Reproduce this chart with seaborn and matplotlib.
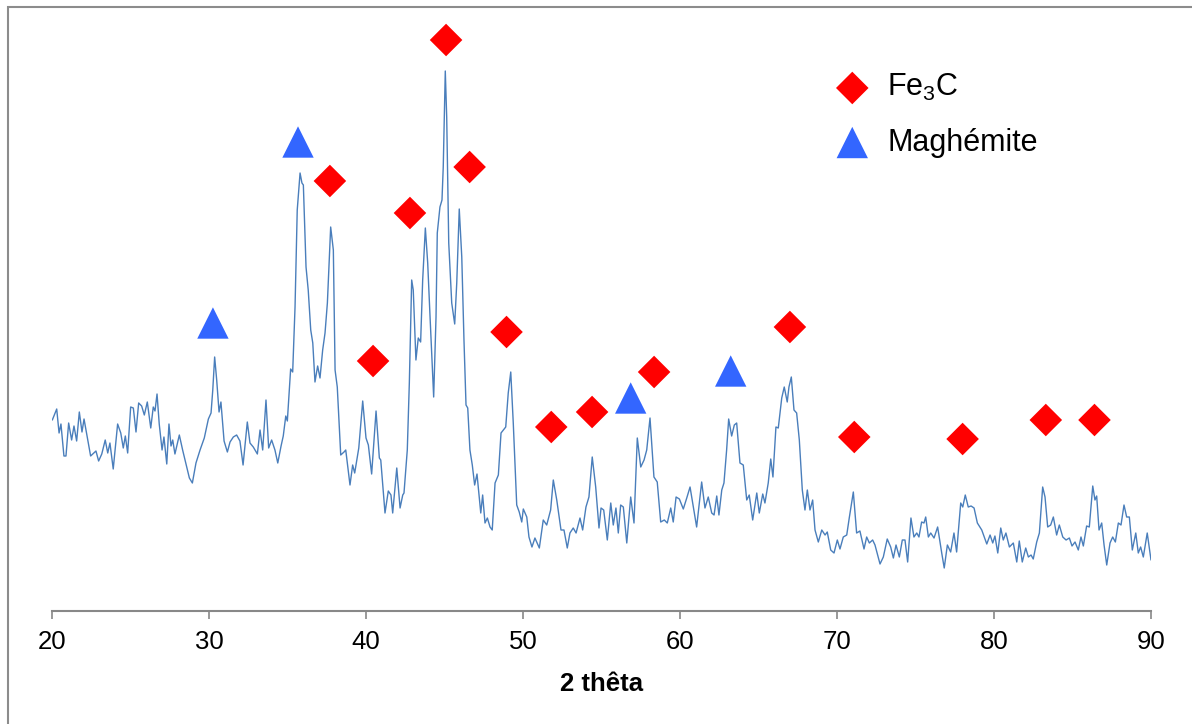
import matplotlib
matplotlib.use("Agg")
import matplotlib.pyplot as plt
from matplotlib.patches import Rectangle
import seaborn as sns
import pandas as pd

# ---- data -------------------------------------------------------------
two_theta = [
    20.02, 20.30, 20.45, 20.57, 20.76, 20.89, 21.06, 21.25, 21.40, 21.57,
    21.74, 21.91, 22.04, 22.21, 22.46, 22.80, 22.97, 23.17, 23.39, 23.55,
    23.69, 23.90, 24.18, 24.38, 24.54, 24.67, 24.82, 25.01, 25.18, 25.35,
    25.52, 25.71, 25.88, 26.07, 26.29, 26.45, 26.56, 26.69, 26.83, 27.01,
    27.13, 27.31, 27.45, 27.58, 27.69, 27.83, 28.11, 28.32, 28.52, 28.75,
    28.94, 29.17, 29.43, 29.70, 29.96, 30.13, 30.24, 30.36, 30.49, 30.64,
    30.76, 30.96, 31.17, 31.34, 31.55, 31.76, 31.97, 32.17, 32.44, 32.61,
    32.82, 33.08, 33.25, 33.42, 33.63, 33.80, 33.99, 34.20, 34.38, 34.59,
    34.73, 34.89, 34.99, 35.20, 35.33, 35.48, 35.62, 35.80, 35.92, 36.01,
    36.18, 36.32, 36.48, 36.61, 36.75, 36.92, 37.07, 37.24, 37.39, 37.54,
    37.75, 37.92, 38.03, 38.17, 38.39, 38.60, 38.71, 38.98, 39.15, 39.28,
    39.54, 39.79, 40.00, 40.15, 40.36, 40.64, 40.85, 40.94, 41.21, 41.42,
    41.59, 41.70, 41.96, 42.17, 42.34, 42.42, 42.63, 42.76, 42.91, 43.01,
    43.18, 43.33, 43.48, 43.61, 43.78, 43.93, 44.08, 44.31, 44.46, 44.54,
    44.71, 44.84, 44.92, 45.05, 45.14, 45.27, 45.46, 45.65, 45.78, 45.94,
    46.10, 46.24, 46.37, 46.48, 46.62, 46.77, 46.92, 47.07, 47.31, 47.43,
    47.58, 47.73, 47.90, 48.04, 48.22, 48.43, 48.60, 48.75, 48.90, 49.06,
    49.22, 49.38, 49.60, 49.76, 49.92, 50.02, 50.24, 50.38, 50.57, 50.76,
    51.04, 51.29, 51.51, 51.76, 51.93, 52.15, 52.42, 52.61, 52.82, 52.99,
    53.20, 53.38, 53.63, 53.80, 54.01, 54.20, 54.41, 54.63, 54.84, 54.97,
    55.14, 55.37, 55.59, 55.75, 55.92, 56.07, 56.22, 56.39, 56.61, 56.86,
    57.07, 57.28, 57.50, 57.71, 57.88, 58.09, 58.34, 58.55, 58.77, 59.00,
    59.19, 59.41, 59.57, 59.75, 59.96, 60.21, 60.43, 60.64, 60.81, 61.06,
    61.38, 61.59, 61.80, 62.02, 62.17, 62.34, 62.48, 62.66, 62.80, 62.97,
    63.10, 63.29, 63.46, 63.61, 63.82, 64.03, 64.25, 64.41, 64.63, 64.89,
    65.05, 65.27, 65.41, 65.62, 65.78, 65.92, 66.11, 66.26, 66.48, 66.64,
    66.83, 66.94, 67.09, 67.26, 67.43, 67.60, 67.79, 67.96, 68.11, 68.28,
    68.45, 68.60, 68.81, 69.03, 69.24, 69.38, 69.60, 69.81, 70.02, 70.19,
    70.40, 70.62, 70.78, 71.04, 71.25, 71.46, 71.72, 71.89, 72.06, 72.27,
    72.42, 72.74, 72.95, 73.20, 73.42, 73.59, 73.76, 73.97, 74.16, 74.33,
    74.50, 74.71, 74.90, 75.08, 75.22, 75.39, 75.54, 75.65, 75.82, 75.97,
    76.18, 76.41, 76.67, 76.83, 77.03, 77.24, 77.45, 77.62, 77.88, 78.01,
    78.17, 78.36, 78.54, 78.73, 78.94, 79.22, 79.54, 79.75, 79.92, 80.06,
    80.24, 80.43, 80.59, 80.76, 80.98, 81.23, 81.45, 81.61, 81.80, 82.02,
    82.19, 82.36, 82.50, 82.72, 82.89, 83.10, 83.25, 83.42, 83.61, 83.78,
    83.99, 84.16, 84.38, 84.59, 84.80, 84.97, 85.16, 85.37, 85.54, 85.69,
    85.90, 86.07, 86.29, 86.43, 86.54, 86.69, 86.86, 87.01, 87.18, 87.39,
    87.56, 87.73, 87.92, 88.09, 88.28, 88.45, 88.62, 88.81, 89.03, 89.19,
    89.34, 89.51, 89.76, 90.00,
]
intensity = [
    191, 202, 178, 187, 155, 155, 188, 171, 185, 170,
    199, 179, 192, 177, 155, 160, 150, 157, 171, 158,
    168, 142, 187, 178, 163, 175, 158, 204, 203, 179,
    208, 205, 196, 209, 183, 204, 200, 217, 187, 161,
    174, 147, 187, 165, 171, 157, 176, 161, 148, 133,
    128, 148, 161, 173, 192, 198, 221, 254, 231, 199,
    209, 170, 159, 169, 174, 176, 170, 146, 189, 168,
    164, 157, 181, 161, 211, 163, 171, 161, 148, 165,
    175, 195, 190, 242, 239, 304, 401, 438, 428, 426,
    344, 321, 281, 268, 229, 245, 233, 261, 278, 308,
    384, 361, 241, 224, 156, 159, 161, 126, 146, 138,
    163, 210, 173, 166, 137, 200, 153, 151, 98, 120,
    116, 98, 143, 103, 116, 118, 161, 228, 331, 321,
    251, 273, 269, 331, 383, 348, 294, 214, 294, 378,
    404, 411, 444, 540, 494, 368, 308, 287, 328, 402,
    354, 271, 206, 203, 161, 146, 126, 137, 98, 116,
    88, 93, 84, 81, 128, 136, 178, 181, 184, 218,
    239, 188, 106, 99, 89, 102, 94, 74, 64, 73,
    63, 91, 86, 101, 131, 111, 81, 81, 63, 78,
    83, 78, 93, 81, 104, 114, 154, 124, 83, 103,
    101, 71, 108, 86, 103, 78, 106, 104, 68, 114,
    88, 173, 144, 151, 161, 193, 134, 129, 89, 91,
    88, 103, 89, 114, 112, 102, 113, 124, 108, 84,
    129, 103, 114, 98, 96, 115, 96, 121, 128, 161,
    192, 175, 186, 188, 148, 146, 111, 116, 91, 118,
    98, 117, 108, 128, 152, 134, 184, 183, 213, 224,
    209, 224, 234, 201, 198, 171, 121, 101, 121, 101,
    111, 81, 69, 81, 76, 79, 61, 58, 71, 62,
    74, 76, 93, 119, 78, 80, 62, 74, 68, 71,
    66, 47, 54, 72, 64, 53, 66, 54, 71, 71,
    49, 93, 74, 78, 74, 89, 88, 94, 74, 78,
    73, 84, 58, 43, 66, 59, 78, 59, 108, 104,
    116, 104, 105, 103, 88, 81, 67, 76, 68, 75,
    58, 83, 71, 78, 64, 68, 49, 70, 49, 63,
    54, 56, 52, 69, 78, 124, 114, 84, 86, 94,
    76, 86, 74, 71, 73, 65, 69, 61, 74, 65,
    85, 84, 125, 111, 115, 81, 88, 66, 46, 68,
    74, 69, 88, 86, 106, 94, 94, 61, 78, 58,
    64, 54, 78, 51,
]

fe3c_theta = [45.1, 37.7, 42.8, 46.6, 40.45, 48.95, 51.8, 54.4, 58.35, 67.0, 71.1, 78.0, 83.3, 86.4]
fe3c_level = [571, 430, 398, 444, 250, 279, 184, 199, 239, 284, 174, 172, 191, 191]
magh_theta = [30.25, 35.67, 56.86, 63.23]
magh_level = [288, 469, 213, 240]

x_ticks = [20, 30, 40, 50, 60, 70, 80, 90]
x_label = "2 thêta"
label_fe3c = "Fe$_3$C"
label_magh = "Maghémite"

# ---- style ------------------------------------------------------------
sns.set_theme(style="white")
plt.rcParams["font.family"] = ["Liberation Sans", "DejaVu Sans"]
plt.rcParams["mathtext.default"] = "regular"
plt.rcParams["text.color"] = "black"
plt.rcParams["axes.labelcolor"] = "black"
plt.rcParams["xtick.color"] = "black"

W, H = 1192, 724
fig = plt.figure(figsize=(W / 100, H / 100), dpi=100)
ax = fig.add_axes([52 / W, 113 / H, 1099 / W, 591 / H])

pattern = pd.DataFrame({"theta": two_theta, "I": intensity})
fe3c = pd.DataFrame({"theta": fe3c_theta, "I": fe3c_level})
magh = pd.DataFrame({"theta": magh_theta, "I": magh_level})

sns.lineplot(data=pattern, x="theta", y="I", ax=ax, color="#4A7EBB",
             linewidth=1.0, estimator=None, sort=False)
sns.scatterplot(data=fe3c, x="theta", y="I", ax=ax, marker="D", s=275,
                color="#FF0000", edgecolor="none", label=label_fe3c, zorder=3)
sns.scatterplot(data=magh, x="theta", y="I", ax=ax, marker="^", s=510,
                color="#3366FF", edgecolor="none", label=label_magh, zorder=3)

ax.set_xlim(20, 90)
ax.set_ylim(0, 591)
ax.set_xticks(x_ticks)
ax.set_yticks([])
ax.set_ylabel("")
ax.set_xlabel(x_label, fontsize=18.5, fontweight="bold", labelpad=13,
              color="black")
for s in ["left", "right", "top"]:
    ax.spines[s].set_visible(False)
ax.spines["bottom"].set_color("#888888")
ax.spines["bottom"].set_linewidth(1.5)
ax.tick_params(axis="x", direction="out", length=5.5, width=1.2,
               color="#888888", labelcolor="black", labelsize=18.5, pad=8,
               bottom=True)
ax.set_facecolor("none")

leg = ax.legend(loc="upper left", bbox_to_anchor=(837 / W, 1 - 72 / H),
                bbox_transform=fig.transFigure, frameon=False, fontsize=22,
                handlelength=1.0, handletextpad=0.65, labelspacing=0.8,
                borderpad=0, borderaxespad=0, scatterpoints=1)
for t in leg.get_texts():
    t.set_color("black")

fig.add_artist(Rectangle((8 / W, -0.2), 1.5, 1.2 - 7 / H, transform=fig.transFigure,
                         fill=False, edgecolor="#8C8C8C", linewidth=1.5))

fig.savefig("out.png", dpi=100, facecolor="white")
